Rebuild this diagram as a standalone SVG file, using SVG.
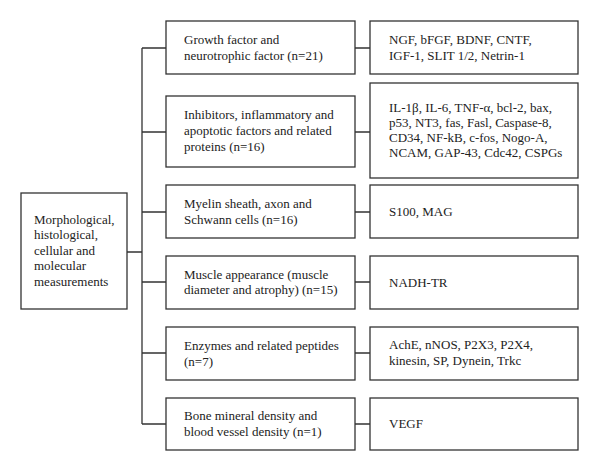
<svg xmlns="http://www.w3.org/2000/svg" width="600" height="472" viewBox="0 0 600 472">
<style>
rect{fill:#fff;stroke:#333;stroke-width:1.3}
.c path{fill:none;stroke:#333;stroke-width:1.3}
text{font-size:13px;fill:#222}
</style>
<rect x="0" y="0" width="600" height="472" style="stroke:none"/>
<g class="c" id="connectors">
<path d="M127 252H142M142 48V424M142 48H166M142 132H166M142 212H166M142 282H166M142 353H166M142 424H166"/>
<path d="M355 48H370M355 132H370M355 212H370M355 282H370M355 353H370M355 424H370"/>
</g>
<g font-family="'Liberation Serif', 'DejaVu Serif', serif">
<g id="root">
<rect x="21" y="193" width="106" height="116"/>
<text x="34"><tspan x="34" y="223.5">Morphological,</tspan><tspan x="34" y="239">histological,</tspan><tspan x="34" y="254.5">cellular and</tspan><tspan x="34" y="270">molecular</tspan><tspan x="34" y="286">measurements</tspan></text>
</g>
<g id="c1">
<rect x="166" y="21" width="189" height="53"/>
<text><tspan x="184" y="43.5">Growth factor and</tspan><tspan x="184" y="59.5">neurotrophic factor (n=21)</tspan></text>
</g>
<g id="c2">
<rect x="166" y="96" width="189" height="71"/>
<text><tspan x="184" y="119">Inhibitors, inflammatory and</tspan><tspan x="184" y="135">apoptotic factors and related</tspan><tspan x="184" y="151">proteins (n=16)</tspan></text>
</g>
<g id="c3">
<rect x="166" y="185" width="189" height="53"/>
<text><tspan x="184" y="207.5">Myelin sheath, axon and</tspan><tspan x="184" y="223.5">Schwann cells (n=16)</tspan></text>
</g>
<g id="c4">
<rect x="166" y="256" width="189" height="53"/>
<text><tspan x="184" y="278.5">Muscle appearance (muscle</tspan><tspan x="184" y="294">diameter and atrophy) (n=15)</tspan></text>
</g>
<g id="c5">
<rect x="166" y="327" width="189" height="53"/>
<text><tspan x="184" y="349.5">Enzymes and related peptides</tspan><tspan x="184" y="366">(n=7)</tspan></text>
</g>
<g id="c6">
<rect x="166" y="398" width="189" height="52"/>
<text><tspan x="184" y="419.5">Bone mineral density and</tspan><tspan x="184" y="435.5">blood vessel density (n=1)</tspan></text>
</g>
<g id="r1">
<rect x="370" y="21" width="208" height="53"/>
<text><tspan x="389" y="43.5">NGF, bFGF, BDNF, CNTF,</tspan><tspan x="389" y="59.5">IGF-1, SLIT 1/2, Netrin-1</tspan></text>
</g>
<g id="r2">
<rect x="370" y="83" width="208" height="95"/>
<text><tspan x="389" y="112">IL-1β, IL-6, TNF-α, bcl-2, bax,</tspan><tspan x="389" y="127">p53, NT3, fas, Fasl, Caspase-8,</tspan><tspan x="389" y="142">CD34, NF-kB, c-fos, Nogo-A,</tspan><tspan x="389" y="157">NCAM, GAP-43, Cdc42, CSPGs</tspan></text>
</g>
<g id="r3">
<rect x="370" y="185" width="208" height="53"/>
<text x="389" y="215.5">S100, MAG</text>
</g>
<g id="r4">
<rect x="370" y="256" width="208" height="53"/>
<text x="389" y="286.5">NADH-TR</text>
</g>
<g id="r5">
<rect x="370" y="327" width="208" height="53"/>
<text><tspan x="389" y="348.5">AchE, nNOS, P2X3, P2X4,</tspan><tspan x="389" y="365">kinesin, SP, Dynein, Trkc</tspan></text>
</g>
<g id="r6">
<rect x="370" y="398" width="208" height="52"/>
<text x="389" y="427.5">VEGF</text>
</g>
</g>
</svg>
